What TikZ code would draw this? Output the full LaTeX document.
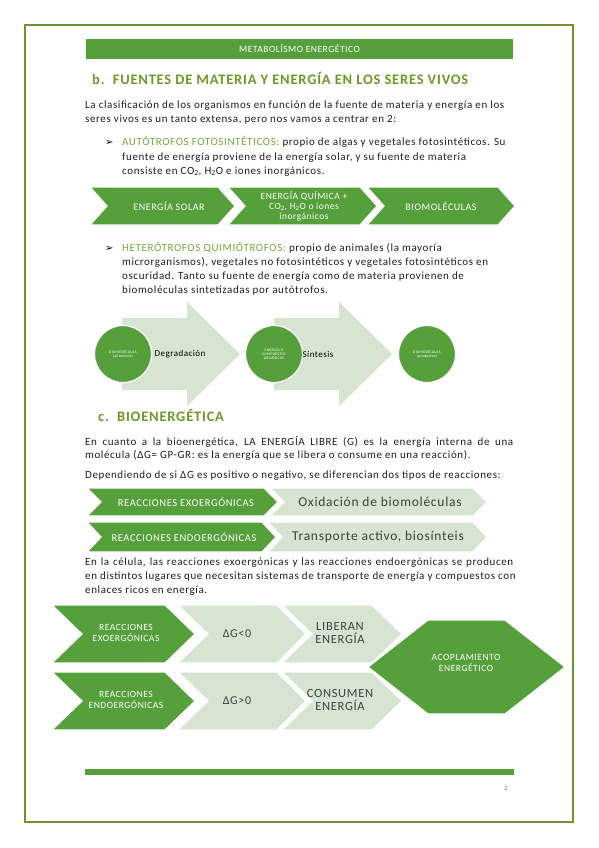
\documentclass[tikz,border=0pt]{standalone}
\usepackage{fontspec}
\setmainfont{Carlito}[LetterSpace=5.5]
\newfontfamily\arrowfont{DejaVu Sans}
\usepackage{xcolor}
\definecolor{barGreen}{RGB}{86,160,60}
\definecolor{frameOlive}{RGB}{112,146,48}
\definecolor{headGreen}{RGB}{108,154,40}
\definecolor{keyGreen}{RGB}{118,168,58}
\definecolor{paleGreen}{RGB}{215,228,210}
\definecolor{bodyInk}{RGB}{30,30,30}
\definecolor{softInk}{RGB}{64,64,64}

\begin{document}
\begin{tikzpicture}[x=1pt,y=-1pt,line join=miter,
  bodytext/.style={anchor=base west,inner sep=0pt,text=bodyInk,font=\fontsize{11}{13}\selectfont},
  heading/.style={anchor=base west,inner sep=0pt,text=headGreen,font=\fontsize{14.5}{17}\selectfont\bfseries},
  bulletmark/.style={anchor=base west,inner sep=0pt,text=black,font=\arrowfont\bfseries\fontsize{10}{10}\selectfont},
  greenpiece/.style={fill=barGreen,draw=white,line width=1.2pt},
  palepiece/.style={fill=paleGreen,draw=white,line width=1.2pt},
  whitelabel/.style={text=white,align=center,inner sep=0pt},
  greylabel/.style={text=softInk,align=center,inner sep=0pt}]
\useasboundingbox (0,0) rectangle (599,848);
\fill[white] (0,0) rectangle (599,848);
\draw[frameOlive,line width=2.4pt] (25,25) rectangle (573,822);

\fill[barGreen] (86,39) rectangle (513,59);
\node[whitelabel,font=\fontsize{9.5}{10}\selectfont] (header) at (299.5,49) {METABOLÍSMO ENERGÉTICO};

\node[heading] (titleB) at (92,85) {b.\ \ FUENTES DE MATERIA Y ENERGÍA EN LOS SERES VIVOS};

\node[bodytext] (introA) at (85,109) {La clasificación de los organismos en función de la fuente de materia y energía en los};
\node[bodytext] (introB) at (85,122.5) {seres vivos es un tanto extensa, pero nos vamos a centrar en 2:};

\node[bulletmark] (bulletA) at (105,146) {➢};
\node[bodytext] (autoA) at (122,146) {\textcolor{keyGreen}{AUTÓTROFOS FOTOSINTÉTICOS:} propio de algas y vegetales fotosintéticos. Su};
\node[bodytext] (autoB) at (122,160) {fuente de energía proviene de la energía solar, y su fuente de materia};
\node[bodytext] (autoC) at (122,174) {consiste en CO\textsubscript{2}, H\textsubscript{2}O e iones inorgánicos.};

\path[greenpiece] (90,187) -- (218,187) -- (235,206) -- (218,225) -- (90,225) -- (107,206) -- cycle;
\path[greenpiece] (228,187) -- (360,187) -- (377,206) -- (360,225) -- (228,225) -- (245,206) -- cycle;
\path[greenpiece] (367,187) -- (498,187) -- (515,206) -- (498,225) -- (367,225) -- (384,206) -- cycle;
\node[whitelabel,font=\fontsize{10}{11}\selectfont] (solar) at (169,206.5) {ENERGÍA SOLAR};
\node[whitelabel,font=\fontsize{9.5}{10}\selectfont] (quimica) at (304,206) {ENERGÍA QUÍMICA +\\CO\textsubscript{2}, H\textsubscript{2}O o iones\\inorgánicos};
\node[whitelabel,font=\fontsize{10}{11}\selectfont] (biomolA) at (441,206.5) {BIOMOLÉCULAS};

\node[bulletmark] (bulletB) at (105,251) {➢};
\node[bodytext] (heteA) at (122,251) {\textcolor{keyGreen}{HETERÓTROFOS QUIMIÓTROFOS:} propio de animales (la mayoría};
\node[bodytext] (heteB) at (122,265) {microrganismos), vegetales no fotosintéticos y vegetales fotosintéticos en};
\node[bodytext] (heteC) at (122,279) {oscuridad. Tanto su fuente de energía como de materia provienen de};
\node[bodytext] (heteD) at (122,293) {biomoléculas sintetizadas por autótrofos.};

\fill[paleGreen] (122,318) -- (187,318) -- (187,302) -- (240,354) -- (187,406) -- (187,390) -- (122,390) -- cycle;
\fill[paleGreen] (274,318) -- (339,318) -- (339,302) -- (392,354) -- (339,406) -- (339,390) -- (274,390) -- cycle;
\node[circle,minimum size=57pt,inner sep=0pt,fill=barGreen,draw=white,line width=1.2pt,
  whitelabel,font=\fontsize{3.8}{4.4}\selectfont] (food) at (123,354) {BIOMOLÉCULAS\\(alimentos)};
\node[circle,minimum size=57pt,inner sep=0pt,fill=barGreen,draw=white,line width=1.2pt,
  whitelabel,font=\fontsize{3.8}{4.4}\selectfont] (organic) at (274,354) {ENERGÍA O\\COMPUESTOS\\ORGÁNICOS};
\node[circle,minimum size=57pt,inner sep=0pt,fill=barGreen,draw=white,line width=1.2pt,
  whitelabel,font=\fontsize{3.8}{4.4}\selectfont] (product) at (427,354) {BIOMOLÉCULAS\\(productos)};
\node[inner sep=0pt,text=black,font=\fontsize{9}{10}\selectfont] (degrad) at (180,354) {Degradación};
\node[inner sep=0pt,text=black,font=\fontsize{9}{10}\selectfont] (sintes) at (318,354) {Síntesis};

\node[heading] (titleC) at (98,421) {c.\ \ BIOENERGÉTICA};

\node[bodytext] (gibbsA) at (85,445) {\makebox[428pt][s]{En cuanto a la bioenergética, LA ENERGÍA LIBRE (G) es la energía interna de una}};
\node[bodytext] (gibbsB) at (85,458.5) {molécula (ΔG= GP-GR: es la energía que se libera o consume en una reacción).};
\node[bodytext] (gibbsC) at (85,478.5) {Dependiendo de si ΔG es positivo o negativo, se diferencian dos tipos de reacciones:};

\path[palepiece] (270,488) -- (473,488) -- (487,502) -- (473,516) -- (270,516) -- (284,502) -- cycle;
\path[greenpiece] (87,488) -- (264,488) -- (278,502) -- (264,516) -- (87,516) -- (101,502) -- cycle;
\path[palepiece] (268,522) -- (473,522) -- (487,537) -- (473,552) -- (268,552) -- (282,537) -- cycle;
\path[greenpiece] (87,522) -- (262,522) -- (276,537) -- (262,552) -- (87,552) -- (101,537) -- cycle;
\node[whitelabel,font=\fontsize{10.5}{11}\selectfont] (exoA) at (186,502.5) {REACCIONES EXOERGÓNICAS};
\node[greylabel,font=\fontsize{13.5}{14}\selectfont] (oxid) at (380,502) {Oxidación de biomoléculas};
\node[whitelabel,font=\fontsize{10.5}{11}\selectfont] (endoA) at (184,537.5) {REACCIONES ENDOERGÓNICAS};
\node[greylabel,font=\fontsize{13.5}{14}\selectfont] (transp) at (378,537) {Transporte activo, biosínteis};

\node[bodytext] (cellA) at (85,565) {\makebox[428pt][s]{En la célula, las reacciones exoergónicas y las reacciones endoergónicas se producen}};
\node[bodytext] (cellB) at (85,579) {en distintos lugares que necesitan sistemas de transporte de energía y compuestos con};
\node[bodytext] (cellC) at (85,593) {enlaces ricos en energía.};

\path[palepiece] (282,605) -- (372,605) -- (402,634) -- (372,663) -- (282,663) -- (312,634) -- cycle;
\path[palepiece] (178,605) -- (277,605) -- (306,634) -- (277,663) -- (178,663) -- (208,634) -- cycle;
\path[greenpiece] (52,605) -- (165,605) -- (195,634) -- (165,663) -- (52,663) -- (82,634) -- cycle;
\path[palepiece] (282,672) -- (372,672) -- (402,701) -- (372,730) -- (282,730) -- (312,701) -- cycle;
\path[palepiece] (178,672) -- (277,672) -- (306,701) -- (277,730) -- (178,730) -- (208,701) -- cycle;
\path[greenpiece] (52,672) -- (165,672) -- (195,701) -- (165,730) -- (52,730) -- (82,701) -- cycle;
\path[greenpiece] (368,667) -- (428,620) -- (505,620) -- (565,667) -- (505,714) -- (428,714) -- cycle;
\node[whitelabel,font=\fontsize{9.5}{10.5}\selectfont] (exoB) at (126,633) {REACCIONES\\EXOERGÓNICAS};
\node[greylabel,font=\fontsize{12}{13}\selectfont] (negG) at (237,634) {ΔG<0};
\node[greylabel,font=\fontsize{12.5}{12.5}\selectfont] (release) at (340,633) {LIBERAN\\ENERGÍA};
\node[whitelabel,font=\fontsize{9.5}{10.5}\selectfont] (endoB) at (126,700) {REACCIONES\\ENDOERGÓNICAS};
\node[greylabel,font=\fontsize{12}{13}\selectfont] (posG) at (237,701) {ΔG>0};
\node[greylabel,font=\fontsize{12.5}{12.5}\selectfont] (consume) at (340,700) {CONSUMEN\\ENERGÍA};
\node[whitelabel,font=\fontsize{9.5}{10.5}\selectfont] (coupling) at (466,663) {ACOPLAMIENTO\\ENERGÉTICO};

\fill[barGreen] (85,769) rectangle (514,775);
\node[inner sep=0pt,text=gray,font=\fontsize{7}{8}\selectfont] (pagenum) at (506,788) {2};
\end{tikzpicture}
\end{document}
